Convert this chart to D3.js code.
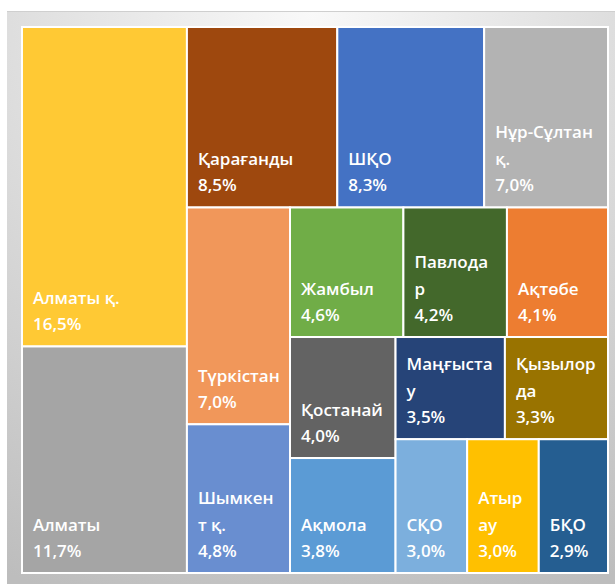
<!DOCTYPE html>
<html>
<head>
<meta charset="utf-8">
<script src="https://cdn.jsdelivr.net/npm/d3@7"></script>
<style>
  body { margin: 0; background: #fff; }
  text { font-family: "Open Sans", "Noto Sans", sans-serif; font-weight: 600; }
</style>
</head>
<body>
<svg width="615" height="584"></svg>
<script>
// regions, share of total (%), fill colour
let regions = ['Алматы қ.', 'Алматы', 'Қарағанды', 'ШҚО', 'Нұр-Сұлтан қ.', 'Түркістан',
  'Шымкент қ.', 'Жамбыл', 'Павлодар', 'Ақтөбе', 'Қостанай', 'Ақмола',
  'Маңғыстау', 'Қызылорда', 'СҚО', 'Атырау', 'БҚО']
let shares = [16.5, 11.7, 8.5, 8.3, 7.0, 7.0, 4.8, 4.6, 4.2, 4.1, 4.0, 3.8, 3.5, 3.3, 3.0, 3.0, 2.9]
let colors = ['#FFC934', '#A5A5A5', '#9E480E', '#4472C4', '#B3B3B3', '#F1975A',
  '#698ED0', '#70AD47', '#43682B', '#ED7D31', '#636363', '#5B9BD5',
  '#264478', '#997300', '#7CAFDD', '#FFC000', '#255E91']
// how many tiles go in each strip (as Excel grouped them)
let stripSizes = [2, 3, 2, 3, 2, 2, 3]

let width = 615
let height = 584
let margin = { top: 27, bottom: 11, left: 22, right: 7 }

let svg = d3.select('svg')

// panel background
let defs = svg.append('defs')
let grad = defs.append('radialGradient')
  .attr('id', 'bg')
  .attr('cx', '50%').attr('cy', '0%').attr('r', '110%')
grad.append('stop').attr('offset', '0%').attr('stop-color', '#f9f9f9')
grad.append('stop').attr('offset', '100%').attr('stop-color', '#bdbdbd')

svg.append('rect')
  .attr('x', 7).attr('y', 11)
  .attr('width', width - 7).attr('height', height - 11)
  .attr('fill', 'url(#bg)')
svg.append('line')
  .attr('x1', 7).attr('x2', width).attr('y1', 11.5).attr('y2', 11.5)
  .attr('stroke', '#cfcfcf')

let data = regions.map((name, i) => ({ name, value: shares[i], color: colors[i] }))

// strips laid along the short side, like squarify but with fixed strip lengths
function excelTile(parent, x0, y0, x1, y1) {
  let nodes = parent.children
  let rest = parent.value
  let i = 0
  stripSizes.forEach((n, k) => {
    let strip = { children: nodes.slice(i, i + n) }
    i += n
    strip.value = d3.sum(strip.children, d => d.value)
    let dx = x1 - x0, dy = y1 - y0
    let last = k === stripSizes.length - 1
    if (last) {
      if (dx >= dy) d3.treemapDice(strip, x0, y0, x1, y1)
      else d3.treemapSlice(strip, x0, y0, x1, y1)
    } else if (dx >= dy) {
      let x = x0 + dx * strip.value / rest
      d3.treemapSlice(strip, x0, y0, x, y1)
      x0 = x
    } else {
      let y = y0 + dy * strip.value / rest
      d3.treemapDice(strip, x0, y0, x1, y)
      y0 = y
    }
    rest -= strip.value
  })
}

let root = d3.hierarchy({ children: data }).sum(d => d.value || 0)

d3.treemap()
  .tile(excelTile)
  .size([width - margin.left - margin.right, height - margin.top - margin.bottom])
  (root)

let fmt = d3.formatLocale({ decimal: ',', thousands: ' ', grouping: [3], currency: ['', ''] }).format('.1f')

let g = svg.append('g')
  .attr('transform', 'translate(' + [margin.left, margin.top] + ')')

let cells = g.selectAll('g.cell')
  .data(root.leaves())
  .join('g')
  .attr('class', 'cell')

cells.append('rect')
  .attr('x', d => d.x0)
  .attr('y', d => d.y0)
  .attr('width', d => d.x1 - d.x0)
  .attr('height', d => d.y1 - d.y0)
  .attr('fill', d => d.data.color)
  .attr('stroke', '#fff')
  .attr('stroke-width', 2)

let fontSize = 17
let lineH = 26.5
let pad = 11

// measuring helper
let probe = svg.append('text').attr('font-size', fontSize).attr('visibility', 'hidden')
function textW(s) {
  probe.text(s)
  return probe.node().getComputedTextLength()
}

function wrapLabel(label, maxW) {
  let lines = []
  let cur = ''
  label.split(' ').forEach(word => {
    let tryLine = cur ? cur + ' ' + word : word
    if (textW(tryLine) <= maxW) { cur = tryLine; return }
    if (cur) { lines.push(cur); cur = '' }
    let w = word
    while (textW(w) > maxW && w.length > 1) {
      let k = w.length - 1
      while (k > 1 && textW(w.slice(0, k)) > maxW) k--
      lines.push(w.slice(0, k))
      w = w.slice(k)
    }
    cur = w
  })
  if (cur) lines.push(cur)
  return lines
}

cells.each(function (d) {
  let lines = wrapLabel(d.data.name, d.x1 - d.x0 - 21)
  lines.push(fmt(d.data.value) + '%')
  let base = d.y1 - 16
  d3.select(this).append('text')
    .attr('font-size', fontSize)
    .attr('fill', '#fff')
    .selectAll('tspan')
    .data(lines)
    .join('tspan')
    .attr('x', d.x0 + pad)
    .attr('y', (s, i) => base - (lines.length - 1 - i) * lineH)
    .text(s => s)
})

probe.remove()
</script>
</body>
</html>
